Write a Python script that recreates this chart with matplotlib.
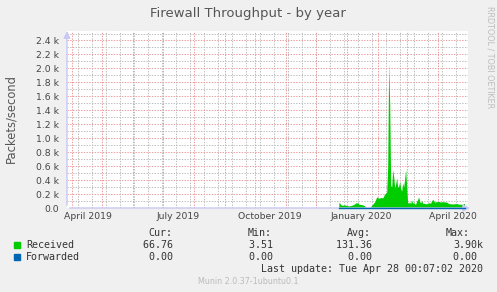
import matplotlib
matplotlib.use("Agg")
import matplotlib.pyplot as plt
import numpy as np
import pandas as pd

# Received packets/s; offsets are days after 2019-12-24
DAY_OFFSETS = [0, 1, 2, 4, 6, 8, 10, 12, 14, 16, 17, 18, 19, 20, 22, 24, 26,
               27, 31, 32, 33, 34, 36, 38, 39, 40, 42, 44, 46, 48, 49, 50, 51,
               52, 53, 54, 55, 56, 57, 58, 59, 60, 61, 62, 63, 64, 65, 66, 67,
               68, 69, 70, 71, 72, 73, 74, 75, 76, 77, 78, 79, 80, 81, 82, 83,
               84, 86, 88, 90, 92, 94, 95, 96, 98, 100, 102, 104, 106, 108,
               110, 112, 114, 116, 118, 120, 122, 124, 126]
RECEIVED = [76, 70, 45, 40, 45, 35, 30, 35, 45, 60, 75, 70, 78, 55, 50, 45, 30,
            3.5, 3.5, 20, 40, 55, 90, 160, 150, 140, 150, 145, 200, 230, 600,
            2080, 1500, 330, 300, 550, 450, 290, 350, 430, 300, 310, 380, 280,
            240, 360, 300, 420, 550, 300, 75, 70, 90, 60, 115, 70, 80, 60, 55,
            100, 120, 160, 100, 70, 110, 70, 65, 60, 75, 70, 125, 110, 85, 90,
            95, 85, 90, 88, 85, 65, 60, 58, 60, 65, 55, 55, 52, 67]
FORWARDED = [0.0] * len(RECEIVED)

START = pd.Timestamp("2019-12-24")
X_MIN = pd.Timestamp("2019-03-26 12:00")
X_MAX = pd.Timestamp("2020-05-01 12:00")

Y_TICKS = [0, 200, 400, 600, 800, 1000, 1200, 1400, 1600, 1800, 2000, 2200, 2400]
Y_LABELS = ["0.0"] + [f"{v / 1000:.1f} k" for v in Y_TICKS[1:]]
X_LABELS = ["April 2019", "July 2019", "October 2019", "January 2020", "April 2020"]
X_LABEL_DATES = ["2019-04-16", "2019-07-16", "2019-10-16", "2020-01-16", "2020-04-16"]

LEGEND_NAMES = ["Received", "Forwarded"]
LEGEND_COLORS = ["#00CC00", "#0066B3"]
STAT_HEADERS = ["Cur:", "Min:", "Avg:", "Max:"]
STATS = [["66.76", "3.51", "131.36", "3.90k"],
         ["0.00", "0.00", "0.00", "0.00"]]

W, H = 497, 292
TXT = "#333333"
MGRID = "#EC9A9A"
GRID = "#BDBDBD"
AXIS = "#C8C8F4"


def fx(px):
    return px / W


def fy(py):
    return 1 - py / H


dates = START + pd.to_timedelta(DAY_OFFSETS, unit="D")

fig = plt.figure(figsize=(W / 100, H / 100), dpi=100, facecolor="#F0F0F0")
ax = fig.add_axes([fx(67), fy(208), fx(468) - fx(67), fy(31) - fy(208)])
ax.set_facecolor("white")

# grid: biweekly minor, monthly major, 100/200 on y
minor_days = pd.date_range("2019-04-07", "2020-05-01", freq="14D")
for d in minor_days:
    ax.axvline(d, color=GRID, lw=0.7, ls=(0, (1.4, 1.4)), zorder=0)
for v in np.arange(100, 2600, 200):
    ax.axhline(v, color=GRID, lw=0.7, ls=(0, (1.4, 1.4)), zorder=0)
for d in pd.date_range("2019-04-01", "2020-05-01", freq="MS"):
    ax.axvline(d, color=MGRID, lw=0.7, ls=(0, (1.4, 1.4)), zorder=1)
for v in Y_TICKS[1:]:
    ax.axhline(v, color=MGRID, lw=0.7, ls=(0, (1.4, 1.4)), zorder=1)

ax.fill_between(dates, 0, RECEIVED, color=LEGEND_COLORS[0], lw=0, zorder=3)

ax.set_xlim(X_MIN, X_MAX)
ax.set_ylim(0, 2536)
for s in ax.spines.values():
    s.set_visible(False)

ax.set_yticks(Y_TICKS)
ax.set_yticklabels(Y_LABELS)
ax.set_xticks(pd.to_datetime(X_LABEL_DATES))
ax.set_xticklabels(X_LABELS)
ax.tick_params(length=0, labelsize=6.7, colors="#444444", pad=6)
ax.tick_params(axis="x", pad=3)

# axes with arrow heads
ax.annotate("", xy=(0, 1.015), xytext=(0, 0), xycoords="axes fraction",
            arrowprops=dict(arrowstyle="-|>,head_length=0.4,head_width=0.2",
                            color=AXIS, lw=1.0), annotation_clip=False)
ax.annotate("", xy=(1.012, 0), xytext=(0, 0), xycoords="axes fraction",
            arrowprops=dict(arrowstyle="-|>,head_length=0.4,head_width=0.2",
                            color=AXIS, lw=1.0), annotation_clip=False)
ax.plot(dates, FORWARDED, color=LEGEND_COLORS[1], lw=1.0, zorder=5, clip_on=False)

fig.text(fx(248), fy(13), "Firewall Throughput - by year", ha="center",
         va="center", fontsize=9.5, color="#555555")
fig.text(fx(11), fy(118.5), "Packets/second", rotation=90, ha="center",
         va="center", fontsize=8.3, color="#555555")
fig.text(fx(490), fy(6), "RRDTOOL / TOBI OETIKER", rotation=270, ha="center",
         va="top", fontsize=5.8, color="#BDBDBD")

mono = "DejaVu Sans Mono"
hdr_right = [172, 272, 371, 470]
val_right = [179, 279, 378, 483]
for h, xr in zip(STAT_HEADERS, hdr_right):
    fig.text(fx(xr), fy(233), h, ha="right", va="center", family=mono,
             fontsize=7.2, color=TXT)
for i, (name, col) in enumerate(zip(LEGEND_NAMES, LEGEND_COLORS)):
    yy = 245 + 12 * i
    fig.patches.append(plt.Rectangle((fx(14), fy(yy + 3)), fx(6), 6 / H,
                                     transform=fig.transFigure, color=col))
    fig.text(fx(26), fy(yy), name, ha="left", va="center", family=mono,
             fontsize=7.2, color=TXT)
    for j, s in enumerate(STATS[i]):
        if not s.endswith("k"):
            s = s + " "
        fig.text(fx(val_right[j]), fy(yy), s, ha="right", va="center",
                 family=mono, fontsize=7.2, color=TXT)

fig.text(fx(483), fy(269), "Last update: Tue Apr 28 00:07:02 2020", ha="right",
         va="center", family=mono, fontsize=7.2, color=TXT)
fig.text(fx(248), fy(281), "Munin 2.0.37-1ubuntu0.1", ha="center", va="center",
         fontsize=5.8, color="#BBBBBB")

fig.savefig("out.png", dpi=100, facecolor=fig.get_facecolor())
